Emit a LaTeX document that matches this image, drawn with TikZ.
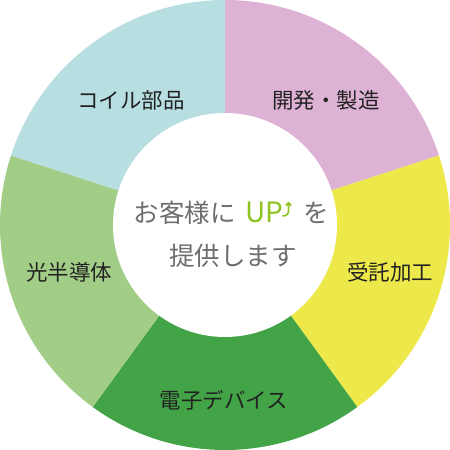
\documentclass[tikz,border=0pt]{standalone}
\usepackage{fontspec}
\usetikzlibrary{arrows.meta}
\setmainfont{Noto Sans CJK JP}
\definecolor{cpink}{HTML}{DEB2D5}
\definecolor{cyellow}{HTML}{EDE94B}
\definecolor{cdgreen}{HTML}{43A447}
\definecolor{clgreen}{HTML}{A2CD87}
\definecolor{cblue}{HTML}{B7DFE2}
\definecolor{cgray}{HTML}{6E6E6E}
\definecolor{cup}{HTML}{8DC21F}
\definecolor{ctext}{HTML}{222222}
\begin{document}
\begin{tikzpicture}[x=1pt,y=1pt,
  lbl/.style={font=\fontsize{21.5}{24}\selectfont, text=ctext, inner sep=0pt},
  ctr/.style={font=\fontsize{25.5}{30}\selectfont, text=cgray, inner sep=0pt}]
\useasboundingbox (0,0) rectangle (450,450);
\coordinate (O) at (225,225);
\def\R{225}
\foreach \a/\b/\c in {90/18/cpink, 18/-54/cyellow, -54/-126/cdgreen, -126/-198/clgreen, 162/90/cblue}{
  \fill[\c] (O) -- ++(\a:\R) arc (\a:\b:\R) -- cycle;
}
\fill[white] (O) circle (112);
\node[lbl] (k1) at (326,350) {開発・製造};
\node[lbl] (k2) at (390,178) {受託加工};
\node[lbl] (k3) at (224,50) {電子デバイス};
\node[lbl] (k4) at (69,178) {光半導体};
\node[lbl] (k5) at (131,350) {コイル部品};
\node[ctr, anchor=base east] (c1) at (236,227) {お客様に};
\node[ctr, anchor=base west, text=cup, font=\fontsize{28}{30}\selectfont] (up) at (245,227) {UP};
\node[ctr, anchor=base west] (wo) at (303,227) {を};
\draw[cup, line width=1.6pt, -{Straight Barb[length=3pt,width=5.5pt]}] (282.5,234) .. controls (286,234) and (288.5,235.5) .. (288.5,239) -- (288.5,248.5);
\node[ctr, anchor=base] (c2) at (233,184) {提供します};
\end{tikzpicture}
\end{document}
